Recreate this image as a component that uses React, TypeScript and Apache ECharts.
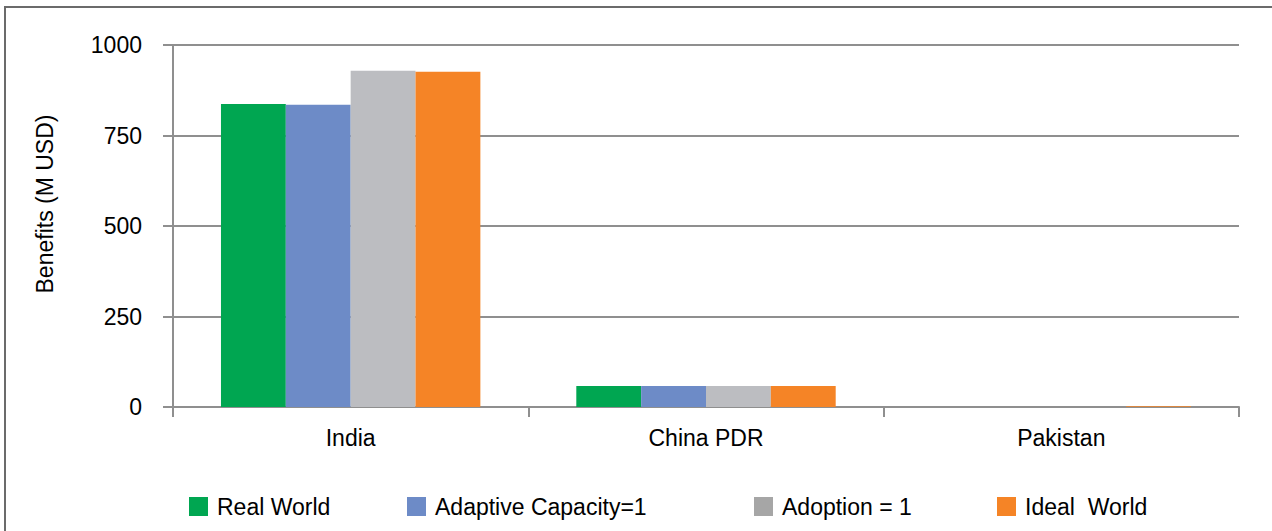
import React, { useEffect, useRef } from "react";
import * as echarts from "echarts";

const categories = ["India", "China PDR", "Pakistan"];
const seriesNames = ["Real World", "Adaptive Capacity=1", "Adoption = 1", "Ideal  World"];
const realWorld = [837, 58, 0];
const adaptiveCapacity = [835, 58, 0];
const adoption = [929, 58, 0];
const idealWorld = [926, 58, 2];
const yTicks = { min: 0, max: 1000, interval: 250 };
const yTitle = "Benefits (M USD)";

const barColors = ["#00A651", "#6D8BC7", "#BCBDC1", "#F58426"];
const legendColors = ["#00A651", "#6D8BC7", "#A6A6A6", "#F58426"];
const legendLefts = [189, 407, 754, 997];

const FONT = "Liberation Sans";

export default function App() {
  const ref = useRef<HTMLDivElement>(null);
  useEffect(() => {
    document.body.style.margin = "0";
    const chart = echarts.init(ref.current!, null, { renderer: "svg" });
    const values = [realWorld, adaptiveCapacity, adoption, idealWorld];
    chart.setOption({
      animation: false,
      backgroundColor: "#ffffff",
      textStyle: { fontFamily: FONT },
      grid: { left: 173, right: 33, top: 45, bottom: 124, containLabel: false },
      xAxis: {
        type: "category",
        data: categories,
        boundaryGap: true,
        axisLine: { show: true, lineStyle: { color: "#8F8F8F", width: 2 } },
        axisTick: { show: true, length: 10, lineStyle: { color: "#8F8F8F", width: 2 } },
        axisLabel: { color: "#000", fontSize: 23, fontFamily: FONT, margin: 19 },
        splitLine: { show: false },
      },
      yAxis: {
        type: "value",
        min: yTicks.min,
        max: yTicks.max,
        interval: yTicks.interval,
        axisLine: { show: true, lineStyle: { color: "#8F8F8F", width: 2 } },
        axisTick: { show: true, length: 10, lineStyle: { color: "#8F8F8F", width: 2 } },
        axisLabel: {
          color: "#000",
          fontSize: 23,
          fontFamily: FONT,
          margin: 31,
          formatter: (v: number) => String(v),
        },
        splitLine: { show: true, lineStyle: { color: "#8F8F8F", width: 2 } },
      },
      legend: seriesNames.map((name, i) => ({
        data: [{ name, itemStyle: { color: legendColors[i] } }],
        left: legendLefts[i],
        top: 495,
        padding: 0,
        itemWidth: 19,
        itemHeight: 19,
        icon: "rect",
        selectedMode: false,
        textStyle: { color: "#000", fontSize: 23, fontFamily: FONT, lineHeight: 19, padding: [0, 0, 0, 4] },
      })),
      series: seriesNames.map((name, i) => ({
        name,
        type: "bar",
        data: values[i],
        barGap: "0%",
        barCategoryGap: "27%",
        itemStyle: { color: barColors[i] },
      })),
      graphic: [
        {
          type: "rect",
          shape: { x: 5, y: 7, width: 1320, height: 600 },
          style: { fill: "none", stroke: "#6B6B6B", lineWidth: 2 },
          silent: true,
          z: -1,
        },
        {
          type: "text",
          x: 45,
          y: 204,
          rotation: Math.PI / 2,
          style: {
            text: yTitle,
            fontSize: 23,
            fontFamily: FONT,
            fill: "#000",
            align: "center",
            verticalAlign: "middle",
          },
        },
      ],
    });
    return () => chart.dispose();
  }, []);
  return <div ref={ref} style={{ width: 1272, height: 531 }} />;
}
